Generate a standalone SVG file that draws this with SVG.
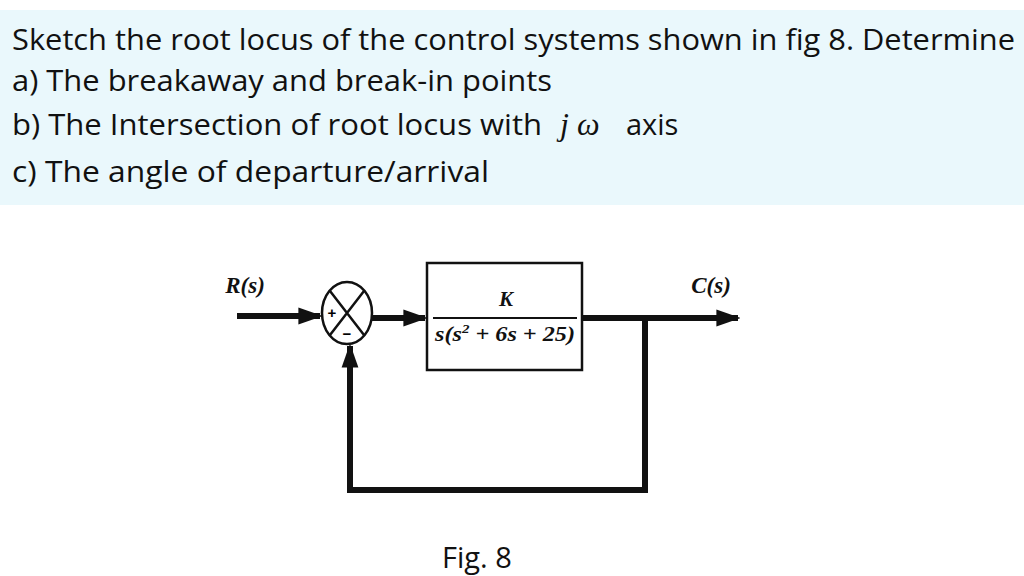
<svg xmlns="http://www.w3.org/2000/svg" width="1024" height="576" viewBox="0 0 1024 576">
<style>
.t{font-family:"Open Sans","Liberation Sans",sans-serif;font-size:29px;fill:#111}
.m{font-family:"Liberation Serif",serif;font-style:italic;font-weight:bold;fill:#111}
.w{stroke:#111;stroke-width:6;fill:none}
</style>
<defs><marker id="a" viewBox="0 0 10 10" refX="9" refY="5" markerWidth="4" markerHeight="4" orient="auto" markerUnits="strokeWidth"><path d="M0,1.5L10,5L0,8.5z" fill="#111"/></marker></defs>
<rect width="1024" height="576" fill="#fff"/>
<rect x="0" y="10" width="1024" height="195" fill="#eaf8fc"/>
<text class="t" x="12" y="50" textLength="1003" lengthAdjust="spacingAndGlyphs">Sketch the root locus of the control systems shown in fig 8. Determine</text>
<text class="t" x="12" y="91" textLength="540" lengthAdjust="spacingAndGlyphs">a) The breakaway and break-in points</text>
<text class="t" x="12" y="135"><tspan textLength="530" lengthAdjust="spacingAndGlyphs">b) The Intersection of root locus with</tspan><tspan x="560" font-family="Liberation Serif" font-style="italic" font-size="32">j ω</tspan><tspan x="626">axis</tspan></text>
<text class="t" x="12" y="182" textLength="477" lengthAdjust="spacingAndGlyphs">c)  The angle of departure/arrival</text>
<g id="sum"><ellipse cx="347" cy="313" rx="25" ry="31" fill="#fff" stroke="#111" stroke-width="2.5"/>
<path d="M330,291L364,335M364,291L330,335" stroke="#111" stroke-width="2.5"/>
<text x="332" y="318" font-family="Liberation Sans" font-size="15" font-weight="bold" text-anchor="middle">+</text>
<text x="347" y="339" font-family="Liberation Sans" font-size="15" font-weight="bold" text-anchor="middle">−</text></g>
<g id="block"><rect x="427" y="263" width="155" height="107" fill="#fff" stroke="#111" stroke-width="2.5"/>
<text class="m" x="506" y="306" font-size="21" text-anchor="middle">K</text>
<line x1="433" y1="318" x2="577" y2="318" stroke="#111" stroke-width="2"/>
<text class="m" x="505" y="341" font-size="21" text-anchor="middle" textLength="140" lengthAdjust="spacingAndGlyphs">s(s<tspan font-size="13" dy="-8">2</tspan><tspan dy="8"> + 6s + 25)</tspan></text></g>
<g id="labels"><text class="m" x="245" y="293" font-size="23" text-anchor="middle">R(s)</text>
<text class="m" x="711" y="293" font-size="23" text-anchor="middle">C(s)</text></g>
<g id="connectors">
<line class="w" x1="237" y1="316" x2="320" y2="316" marker-end="url(#a)"/>
<line class="w" x1="372" y1="318" x2="425" y2="318" marker-end="url(#a)"/>
<line class="w" x1="582" y1="318" x2="738" y2="318" marker-end="url(#a)"/>
<polyline class="w" points="645,318 645,490 350,490 350,346" marker-end="url(#a)"/>
</g>
<text class="t" x="442" y="568" font-size="25">Fig. 8</text>
</svg>
